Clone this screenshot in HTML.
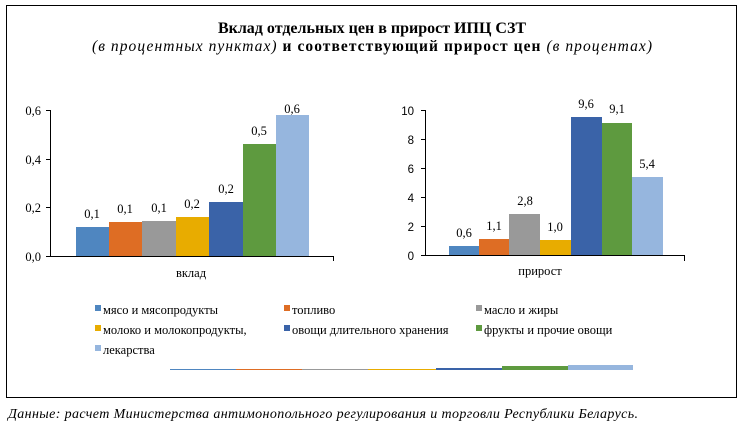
<!DOCTYPE html>
<html><head><meta charset="utf-8"><style>
body{margin:0;background:#fff;width:745px;height:428px;overflow:hidden}
svg{display:block;font-family:"Liberation Serif",serif}
</style></head><body>
<svg width="745" height="428" viewBox="0 0 745 428">
<rect x="6.5" y="5.5" width="730" height="392" fill="#fff" stroke="#000" stroke-width="1"/>
<text x="372" y="33" text-anchor="middle" font-size="16" font-weight="bold">Вклад отдельных цен в прирост ИПЦ СЗТ</text>
<text x="372" y="51" text-anchor="middle" font-size="15.5" textLength="560"><tspan font-style="italic">(в процентных пунктах)</tspan><tspan font-weight="bold"> и соответствующий прирост цен </tspan><tspan font-style="italic">(в процентах)</tspan></text>
<g font-size="12.5" fill="#000">
<line x1="50.5" y1="110" x2="50.5" y2="257" stroke="#000"/>
<line x1="46" y1="256.5" x2="334" y2="256.5" stroke="#000"/>
<line x1="333.5" y1="256" x2="333.5" y2="261" stroke="#000"/>
<line x1="46" y1="110.5" x2="50" y2="110.5" stroke="#000"/>
<line x1="46" y1="159.5" x2="50" y2="159.5" stroke="#000"/>
<line x1="46" y1="207.5" x2="50" y2="207.5" stroke="#000"/>
<text x="41" y="115" text-anchor="end">0,6</text>
<text x="41" y="164" text-anchor="end">0,4</text>
<text x="41" y="212" text-anchor="end">0,2</text>
<text x="41" y="261" text-anchor="end">0,0</text>
<rect x="76" y="227" width="33" height="29" fill="#4f86c0"/>
<rect x="109" y="222" width="33" height="34" fill="#de6d24"/>
<rect x="142" y="221" width="34" height="35" fill="#999999"/>
<rect x="176" y="217" width="33" height="39" fill="#e8ac00"/>
<rect x="209" y="202" width="34" height="54" fill="#3a63a8"/>
<rect x="243" y="144" width="33" height="112" fill="#5e9a3f"/>
<rect x="276" y="115" width="33" height="141" fill="#96b6de"/>
<g text-anchor="middle">
<text x="92" y="218">0,1</text><text x="125" y="213">0,1</text><text x="159" y="212">0,1</text>
<text x="192" y="208">0,2</text><text x="226" y="193">0,2</text><text x="259" y="135">0,5</text><text x="292" y="113">0,6</text>
<text x="191" y="277">вклад</text>
</g>
<line x1="425.5" y1="110" x2="425.5" y2="256" stroke="#000"/>
<line x1="421" y1="255.5" x2="685" y2="255.5" stroke="#000"/>
<line x1="684.5" y1="255" x2="684.5" y2="261" stroke="#000"/>
<g stroke="#000"><line x1="421" y1="110.5" x2="425" y2="110.5"/><line x1="421" y1="139.5" x2="425" y2="139.5"/><line x1="421" y1="168.5" x2="425" y2="168.5"/><line x1="421" y1="197.5" x2="425" y2="197.5"/><line x1="421" y1="226.5" x2="425" y2="226.5"/></g>
<g text-anchor="end" font-family="Liberation Sans,sans-serif" font-size="11.5">
<text x="414" y="115">10</text><text x="414" y="144">8</text><text x="414" y="173">6</text><text x="414" y="202">4</text><text x="414" y="231">2</text><text x="414" y="260">0</text>
</g>
<rect x="449" y="246" width="30" height="9" fill="#4f86c0"/>
<rect x="479" y="239" width="30" height="16" fill="#de6d24"/>
<rect x="509" y="214" width="31" height="41" fill="#999999"/>
<rect x="540" y="240" width="31" height="15" fill="#e8ac00"/>
<rect x="571" y="117" width="31" height="138" fill="#3a63a8"/>
<rect x="602" y="123" width="30" height="132" fill="#5e9a3f"/>
<rect x="632" y="177" width="31" height="78" fill="#96b6de"/>
<g text-anchor="middle">
<text x="464" y="237">0,6</text><text x="494" y="230">1,1</text><text x="525" y="205">2,8</text>
<text x="555" y="231">1,0</text><text x="586" y="108">9,6</text><text x="617" y="113">9,1</text><text x="647" y="168">5,4</text>
<text x="540" y="275">прирост</text>
</g>
<rect x="95" y="305" width="6" height="6" fill="#4f86c0"/><text x="103" y="314">мясо и мясопродукты</text>
<rect x="284" y="305" width="6" height="6" fill="#de6d24"/><text x="292" y="314">топливо</text>
<rect x="476" y="305" width="6" height="6" fill="#999999"/><text x="484" y="314">масло и жиры</text>
<rect x="95" y="325" width="6" height="6" fill="#e8ac00"/><text x="103" y="334">молоко и молокопродукты,</text>
<rect x="284" y="325" width="6" height="6" fill="#3a63a8"/><text x="292" y="334">овощи длительного хранения</text>
<rect x="476" y="325" width="6" height="6" fill="#5e9a3f"/><text x="484" y="334">фрукты и прочие овощи</text>
<rect x="95" y="345" width="6" height="6" fill="#96b6de"/><text x="103" y="354">лекарства</text>
<rect x="170" y="369" width="66" height="1" fill="#4f86c0"/>
<rect x="236" y="369" width="66" height="1" fill="#de6d24"/>
<rect x="302" y="369" width="66" height="1" fill="#999999"/>
<rect x="368" y="369" width="68" height="1" fill="#e8ac00"/>
<rect x="436" y="368" width="66" height="2" fill="#3a63a8"/>
<rect x="502" y="366" width="66" height="4" fill="#5e9a3f"/>
<rect x="568" y="365" width="65" height="5" fill="#96b6de"/>
</g>
<text x="8" y="418" font-size="14" font-style="italic" textLength="630">Данные: расчет Министерства антимонопольного регулирования и торговли Республики Беларусь.</text>
</svg>
</body></html>
